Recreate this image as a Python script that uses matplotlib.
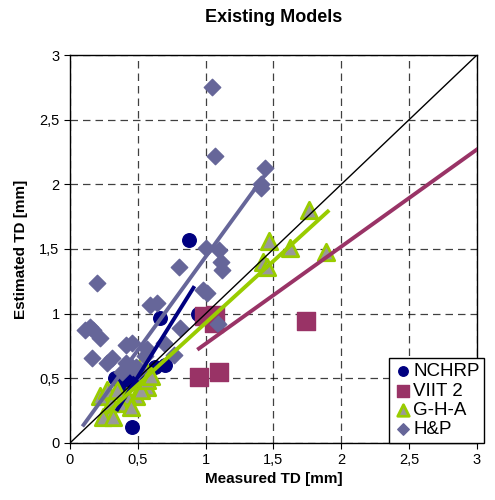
import numpy as np
import matplotlib.pyplot as plt
from matplotlib.ticker import FuncFormatter

plt.rcParams['font.family'] = ['Liberation Sans', 'DejaVu Sans']

# --- data (measured vs estimated TD, mm) ---
nchrp_x = [0.88, 0.94, 0.66, 0.70, 0.63, 0.33, 0.38, 0.46, 0.46, 0.52, 0.42]
nchrp_y = [1.57, 1.00, 0.97, 0.60, 0.59, 0.50, 0.46, 0.47, 0.12, 0.55, 0.52]
nchrp_fit_x = [0.35, 0.91]
nchrp_fit_y = [0.26, 1.20]

viit_x = [0.99, 1.07, 1.06, 0.95, 1.10, 1.74]
viit_y = [0.98, 0.99, 0.93, 0.51, 0.55, 0.94]
viit_fit_x = [0.95, 3.0]
viit_fit_y = [0.73, 2.27]

gha_x = [1.76, 1.47, 1.62, 1.89, 1.42, 1.45,
         0.53, 0.57, 0.49, 0.42, 0.37, 0.29, 0.24, 0.22, 0.27, 0.30,
         0.35, 0.52, 0.57, 0.32, 0.60, 0.45]
gha_y = [1.80, 1.56, 1.51, 1.48, 1.40, 1.36,
         0.62, 0.43, 0.36, 0.36, 0.31, 0.23, 0.20, 0.36, 0.41, 0.31,
         0.41, 0.41, 0.49, 0.20, 0.52, 0.28]
gha_fit_x = [0.27, 1.90]
gha_fit_y = [0.23, 1.79]

hp_x = [1.05, 1.07, 1.44, 1.41, 1.41, 1.00, 1.10, 1.11, 1.12, 0.98, 1.01,
        1.09, 0.80, 0.81, 0.77, 0.20, 0.59, 0.64, 0.11, 0.15, 0.17, 0.22,
        0.16, 0.41, 0.46, 0.57, 0.27, 0.31, 0.41, 0.46, 0.49, 0.55, 0.69,
        0.38, 0.50]
hp_y = [2.75, 2.22, 2.13, 2.00, 1.97, 1.51, 1.49, 1.40, 1.34, 1.18, 1.16,
        0.92, 1.36, 0.89, 0.68, 1.24, 1.07, 1.08, 0.87, 0.90, 0.87, 0.81,
        0.66, 0.76, 0.77, 0.73, 0.62, 0.66, 0.62, 0.59, 0.59, 0.67, 0.77,
        0.55, 0.56]
hp_fit_x = [0.10, 1.45]
hp_fit_y = [0.14, 2.09]

ticks = [0, 0.5, 1, 1.5, 2, 2.5, 3]

fig = plt.figure(figsize=(4.95, 5.0), dpi=100)
ax = fig.add_axes([0.1414, 0.114, 0.8222, 0.776])

navy = '#000080'
plum = '#993366'
lime = '#99CC00'
slate = '#666699'

ax.scatter(nchrp_x, nchrp_y, s=95, marker='o', color=navy, label='NCHRP', zorder=3)
ax.scatter(viit_x, viit_y, s=150, marker='s', color=plum, label='VIIT 2', zorder=3)
ax.scatter(gha_x, gha_y, s=140, marker='^', facecolor='#999999', edgecolor=lime,
           linewidths=2, label='G-H-A', zorder=4)
ax.scatter(hp_x, hp_y, s=70, marker='D', color=slate, label='H&P', zorder=5)

ax.plot([0, 3], [0, 3], color='black', lw=1.0, zorder=6)
ax.plot(nchrp_fit_x, nchrp_fit_y, color=navy, lw=2.8, zorder=6)
ax.plot(viit_fit_x, viit_fit_y, color=plum, lw=2.8, zorder=6)
ax.plot(gha_fit_x, gha_fit_y, color=lime, lw=2.8, zorder=6)
ax.plot(hp_fit_x, hp_fit_y, color=slate, lw=2.8, zorder=6)

ax.set_xlim(0, 3)
ax.set_ylim(0, 3)
ax.set_xticks(ticks)
ax.set_yticks(ticks)
fmt = FuncFormatter(lambda v, p: ('%g' % v).replace('.', ','))
ax.xaxis.set_major_formatter(fmt)
ax.yaxis.set_major_formatter(fmt)
ax.tick_params(labelsize=10.5, direction='out', length=4)
ax.grid(True, color='black', linestyle=(0, (6, 4)), lw=0.9, alpha=0.75)
ax.set_axisbelow(True)
for s in ax.spines.values():
    s.set_linewidth(1.0)

ax.set_title('Existing Models', fontsize=13, fontweight='bold', pad=24)
ax.set_xlabel('Measured TD [mm]', fontsize=11, fontweight='bold', labelpad=3)
ax.set_ylabel('Estimated TD [mm]', fontsize=11, fontweight='bold', labelpad=8)

leg = ax.legend(loc='lower left', bbox_to_anchor=(0.783, 0.0), fontsize=13.5,
                frameon=True, fancybox=False, edgecolor='black', framealpha=1,
                handletextpad=0.05, borderpad=0.25, labelspacing=0.12,
                handlelength=1.0, borderaxespad=0, markerscale=0.7)
leg.get_frame().set_linewidth(1.0)
leg.set_zorder(10)

plt.savefig('out.png', dpi=100)
